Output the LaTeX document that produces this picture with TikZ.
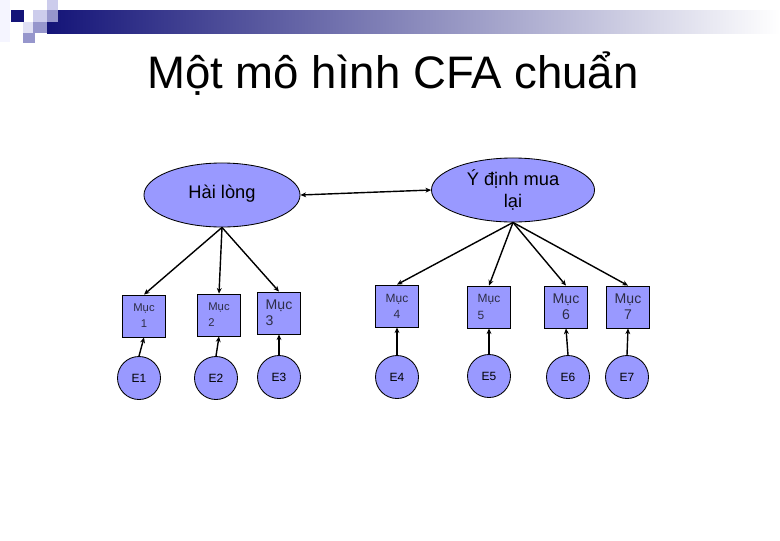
\documentclass[tikz,border=0pt]{standalone}
\usepackage{fontspec}
\setmainfont{Liberation Sans}
\usetikzlibrary{arrows, arrows.meta, shapes.geometric}

\definecolor{lav}{RGB}{153,153,255}
\definecolor{navy}{RGB}{20,20,120}
\definecolor{lightlav}{RGB}{204,204,236}
\definecolor{midlav}{RGB}{150,150,204}
\definecolor{boxtext}{RGB}{45,45,70}

\begin{document}
\begin{tikzpicture}[
		x=0.025cm, y=-0.025cm,
		factor/.style	={ ellipse, draw=black, line width=0.6pt, fill=lav,
			inner sep=0pt, minimum height=1.6cm,
			font=\fontsize{13}{15.5}\selectfont, align=center,
		},
		itembox/.style	={ rectangle, draw=black, line width=0.6pt, fill=lav,
			minimum width=1.075cm, minimum height=1.05cm, inner sep=1pt,
			text=boxtext,
		},
		errnode/.style	={ circle, draw=black, line width=0.6pt, fill=lav,
			minimum size=1.075cm, inner sep=0pt,
			font=\fontsize{8.5}{10}\selectfont,
		},
		link/.style		={ line width=1pt, -{Stealth[length=4pt, width=3.5pt]} },
	]
	
	\useasboundingbox (0,0) rectangle (780,540);
	
	% header band
	\shade [left color=navy, right color=white] (47,10) rectangle (780,33);
	\fill [white!90!lav] (0,0) rectangle (10,42);
	\fill [navy] (11,10) rectangle (24,22);
	\fill [lightlav] (33,10) rectangle (47,22);
	\fill [lightlav] (47,0) rectangle (58,10);
	\fill [midlav] (47,10) rectangle (58,22);
	\fill [lightlav!60] (23,22) rectangle (33,33);
	\fill [midlav] (33,22) rectangle (47,33);
	\fill [midlav] (23,33) rectangle (35,43);
	
	% title
	\node [anchor=base, font=\fontsize{32.4}{38}\selectfont] (title) at (393,88)
		{Một mô hình CFA chuẩn};
	
	% draw factors
	\node [factor, minimum width=3.9cm] (hl) at (222,195) {\raisebox{5pt}{Hài lòng}};
	\node [factor, minimum width=4.075cm] (yd) at (513,190) {Ý định mua\\lại};
	
	\draw [line width=1pt, {Stealth[length=4pt, width=3.5pt]}-{Stealth[length=4pt, width=3.5pt]}]
		(hl.east) -- (yd.west);
	
	% draw items: x/y/number/font size/alignment
	\def\itemlist{ 144/316/1/8/center, 219/315/2/8/left, 279/313/3/10/left,
		397/306/4/8.5/center, 489/307/5/8.5/left, 566/307/6/10/center, 628/307/7/10/center}
	
	\foreach \x/\y/\n/\fs/\al in \itemlist
		\node [itembox, font=\fontsize{\fs}{11.5}\selectfont, align=\al] (item_\n) at (\x,\y) {Mục\\\n};
	
	% draw errors
	\def\errlist{ 139/378/1, 216/378/2, 279/377/3, 397/377/4, 489/376/5, 568/377/6, 627/377/7}
	
	\foreach \x/\y/\n in \errlist
		\node [errnode] (err_\n) at (\x,\y) {E\n};
	
	% draw loadings
	\foreach \n in {1,2,3}
		\draw [link] (hl.south) -- (item_\n.north);
	\foreach \n in {4,...,7}
		\draw [link] (yd.south) -- (item_\n.north);
	
	% draw error paths
	\foreach \n in {1,...,7}
		\draw [link] (err_\n.north) -- (item_\n.south);
	
\end{tikzpicture}
\end{document}
